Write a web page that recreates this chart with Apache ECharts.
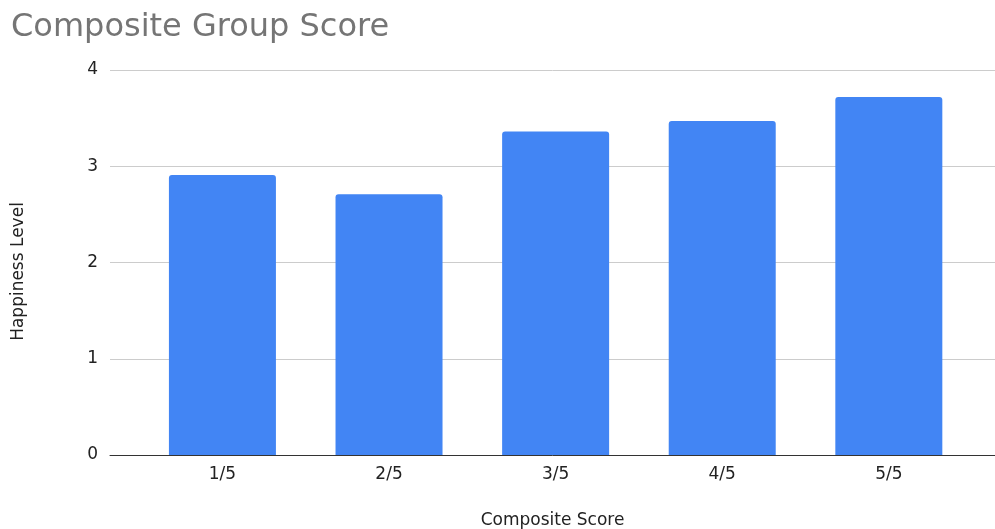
<!DOCTYPE html>
<html>
<head>
<meta charset="utf-8">
<title>Composite Group Score</title>
<script src="https://cdn.jsdelivr.net/npm/echarts@6/dist/echarts.min.js"></script>
<style>
  html, body { margin: 0; padding: 0; background: #ffffff; }
  #chart { width: 995px; height: 529px; }
</style>
</head>
<body>
<div id="chart"></div>
<script>
// Composite score groups and the mean happiness level of each group
const categories = ['1/5', '2/5', '3/5', '4/5', '5/5'];
const happiness = [2.91, 2.71, 3.36, 3.47, 3.72];
const yTicks = [0, 1, 2, 3, 4];

const FONT = '"DejaVu Sans", "Liberation Sans", Arial, sans-serif';
const yMin = yTicks[0];
const yMax = yTicks[yTicks.length - 1];
const yStep = yTicks[1] - yTicks[0];

const chart = echarts.init(document.getElementById('chart'), null, { renderer: 'canvas' });

chart.setOption({
  animation: false,
  backgroundColor: '#ffffff',
  title: {
    text: 'Composite Group Score',
    left: 6,
    top: 7,
    textStyle: { fontFamily: FONT, fontSize: 32, fontWeight: 'normal', color: '#757575' }
  },
  // grid 0 carries the full-width gridlines and baseline, grid 1 holds the bars
  grid: [
    { left: 110, right: 0, top: 70, bottom: 74, outerBoundsMode: 'none' },
    { left: 139.125, right: 22.875, top: 70, bottom: 74, outerBoundsMode: 'none' }
  ],
  xAxis: [
    {
      gridIndex: 0,
      type: 'category',
      data: [''],
      z: 5,
      axisLine: { show: true, lineStyle: { color: '#333333', width: 1 } },
      axisTick: { show: false },
      axisLabel: { show: false },
      splitLine: { show: false },
      name: 'Composite Score',
      nameLocation: 'middle',
      nameGap: 57,
      nameTextStyle: { fontFamily: FONT, fontSize: 17, color: '#222222' }
    },
    {
      gridIndex: 1,
      type: 'category',
      data: categories,
      axisLine: { show: false },
      axisTick: { show: false },
      axisLabel: { margin: 11, fontFamily: FONT, fontSize: 17, color: '#222222' },
      splitLine: { show: false }
    }
  ],
  yAxis: [
    {
      gridIndex: 0,
      type: 'value',
      min: yMin,
      max: yMax,
      interval: yStep,
      axisLine: { show: false },
      axisTick: { show: false },
      axisLabel: { margin: 12, fontFamily: FONT, fontSize: 17, color: '#222222' },
      splitLine: { show: true, lineStyle: { color: '#cccccc', width: 1 } },
      name: 'Happiness Level',
      nameLocation: 'middle',
      nameGap: 83,
      nameTextStyle: { fontFamily: FONT, fontSize: 17, color: '#222222', padding: [0, 18, 0, 0] }
    },
    {
      gridIndex: 1,
      type: 'value',
      min: yMin,
      max: yMax,
      interval: yStep,
      show: false,
      splitLine: { show: false }
    }
  ],
  series: [
    {
      type: 'bar',
      xAxisIndex: 1,
      yAxisIndex: 1,
      data: happiness,
      barWidth: 107,
      itemStyle: { color: '#4285F4', borderRadius: [3, 3, 0, 0] }
    }
  ]
});
</script>
</body>
</html>
